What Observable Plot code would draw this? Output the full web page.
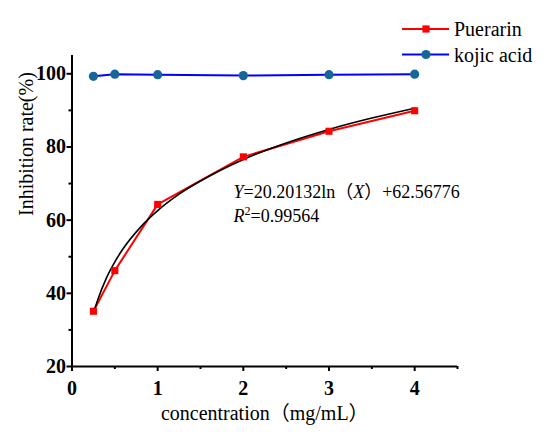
<!DOCTYPE html>
<html>
<head>
<meta charset="utf-8">
<script src="https://cdn.jsdelivr.net/npm/d3@7"></script>
<script src="https://cdn.jsdelivr.net/npm/@observablehq/plot@0.6"></script>
<style>
  html, body { margin: 0; padding: 0; background: #fff; }
  #chart svg { display: block; }
</style>
</head>
<body>
<div id="chart"></div>
<script>
// ---- data ----
const concentration = [0.25, 0.5, 1, 2, 3, 4];
const puerarin = [35.1, 46.2, 64.3, 77.3, 84.3, 89.9];
const kojicAcid = [99.3, 99.9, 99.75, 99.5, 99.75, 99.9];
// fitted logarithmic curve
const fitX = [0.25, 0.3, 0.4, 0.5, 0.6, 0.8, 1, 1.25, 1.5, 2, 2.5, 3, 3.5, 4];
const fitY = [34.6, 38.2, 44.1, 48.6, 52.3, 58.1, 62.6, 67.1, 70.7, 76.6, 81.1, 84.8, 87.9, 90.6];
const xMajorTicks = [0, 1, 2, 3, 4];
const xMinorTicks = [0.5, 1.5, 2.5, 3.5, 4.5];
const yMajorTicks = [20, 40, 60, 80, 100];
const yMinorTicks = [30, 50, 70, 90];
const seriesNames = ["Puerarin", "kojic acid"];
const equationText = "Y=20.20132ln（X）+62.56776";
const r2Text = "R2=0.99564";
const xLabel = "concentration（mg/mL）";
const yLabel = "Inhibition rate(%)";

const puerarinData = concentration.map((c, i) => ({c, v: puerarin[i]}));
const kojicData = concentration.map((c, i) => ({c, v: kojicAcid[i]}));
const fitData = fitX.map((c, i) => ({c, v: fitY[i]}));

const RED = "#ff0000", BLUE = "#0000ff", TEAL = "#17669a";
const FONT = '"Liberation Serif", "Noto Sans CJK SC", serif';

const svg = Plot.plot({
  width: 550,
  height: 437,
  marginLeft: 71.5,
  marginRight: 93,
  marginTop: 55,
  marginBottom: 71,
  style: {fontFamily: FONT, background: "#fff", color: "#000"},
  x: {domain: [0, 4.5]},
  y: {domain: [20, 105]},
  marks: [
    Plot.axisX({ticks: xMajorTicks, tickSize: 5, tickPadding: 9, strokeWidth: 2, fontSize: 20, fontWeight: "bold", fontVariant: "normal", label: null, tickFormat: d => String(d)}),
    Plot.axisX({ticks: xMinorTicks, tickSize: 3, strokeWidth: 2, text: null, label: null}),
    Plot.axisY({ticks: yMajorTicks, tickSize: 5, tickPadding: 1, strokeWidth: 2, fontSize: 20, fontWeight: "bold", fontVariant: "normal", label: null, tickFormat: d => String(d)}),
    Plot.axisY({ticks: yMinorTicks, tickSize: 3, strokeWidth: 2, text: null, label: null}),
    Plot.ruleX([0], {stroke: "#000", strokeWidth: 2}),
    Plot.ruleY([20], {stroke: "#000", strokeWidth: 2}),
    Plot.line(puerarinData, {x: "c", y: "v", stroke: RED, strokeWidth: 2}),
    Plot.line(kojicData, {x: "c", y: "v", stroke: BLUE, strokeWidth: 2}),
    Plot.line(fitData, {x: "c", y: "v", stroke: "#000", strokeWidth: 1.6, curve: "monotone-x"}),
    Plot.dot(kojicData, {x: "c", y: "v", r: 4.6, fill: TEAL, stroke: "none"}),
    Plot.dot(puerarinData, {x: "c", y: "v", symbol: "square", r: 4, fill: RED, stroke: "none"}),
    Plot.text([equationText], {frameAnchor: "top-left", dx: 161.5, dy: 142, lineAnchor: "bottom", textAnchor: "start", fontSize: 18, fill: "#000"}),
    Plot.text([r2Text], {frameAnchor: "top-left", dx: 161.5, dy: 166, lineAnchor: "bottom", textAnchor: "start", fontSize: 18, fill: "#000"}),
    Plot.text([xLabel], {frameAnchor: "bottom", dy: 47, lineAnchor: "middle", fontSize: 20, fill: "#000"}),
    Plot.text([yLabel], {frameAnchor: "left", dx: -45, dy: 5, rotate: -90, lineAnchor: "middle", fontSize: 20, fill: "#000"})
  ]
});

// legend (drawn into the same SVG)
const legend = d3.select(svg).append("g").attr("font-size", 20).attr("text-anchor", "start");
const legendItems = [
  {name: seriesNames[0], color: RED, marker: "square", y: 29},
  {name: seriesNames[1], color: BLUE, marker: "circle", y: 54.5}
];
legendItems.forEach(d => {
  legend.append("line").attr("x1", 402).attr("x2", 449).attr("y1", d.y).attr("y2", d.y)
    .attr("stroke", d.color).attr("stroke-width", 2);
  if (d.marker === "square") {
    legend.append("rect").attr("x", 426 - 3.6).attr("y", d.y - 3.6).attr("width", 7.2).attr("height", 7.2).attr("fill", RED);
  } else {
    legend.append("circle").attr("cx", 426).attr("cy", d.y).attr("r", 4.6).attr("fill", TEAL);
  }
  legend.append("text").attr("x", 454).attr("y", d.y).attr("dy", "0.35em").attr("text-anchor", "start")
    .attr("fill", "#000").text(d.name);
});

// fonts and rich-text formatting (italic Y, X, R and superscript 2)
d3.select(svg).selectAll("text").each(function () {
  this.style.setProperty("font-family", FONT, "important");
  const t = this.textContent;
  if (t === equationText) {
    const sel = d3.select(this);
    sel.text(null);
    [["Y", true], ["=20.20132ln", false], ["（", false], ["X", true], ["）+62.56776", false]].forEach(([s, it]) => {
      sel.append("tspan").attr("font-style", it ? "italic" : null).text(s);
    });
  } else if (t === r2Text) {
    const sel = d3.select(this);
    sel.text(null);
    sel.append("tspan").attr("font-style", "italic").text("R");
    sel.append("tspan").attr("font-size", 12).attr("dy", -7).text("2");
    sel.append("tspan").attr("dy", 7).text("=0.99564");
  }
});

document.getElementById("chart").appendChild(svg);
</script>
</body>
</html>
